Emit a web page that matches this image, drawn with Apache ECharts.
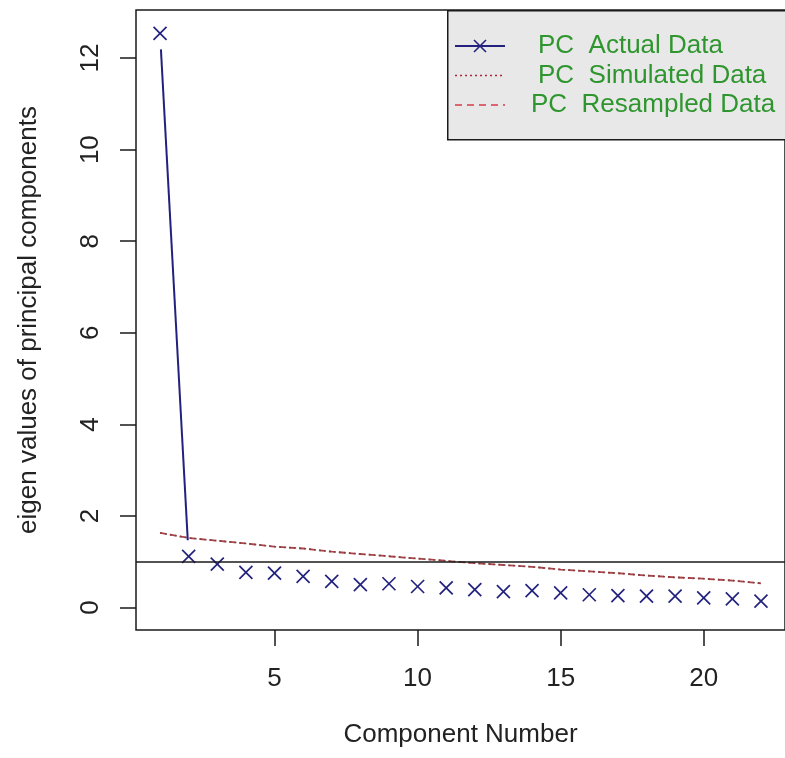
<!DOCTYPE html>
<html>
<head>
<meta charset="utf-8">
<script src="https://cdn.jsdelivr.net/npm/echarts@6/dist/echarts.min.js"></script>
<style>
html,body{margin:0;padding:0;background:#fff;}
#chart{width:785px;height:758px;}
</style>
</head>
<body>
<div id="chart"></div>
<script>
// ---- data ----
var components = [1,2,3,4,5,6,7,8,9,10,11,12,13,14,15,16,17,18,19,20,21,22];
var actualData = [12.54,1.12,0.95,0.77,0.75,0.68,0.57,0.50,0.52,0.46,0.43,0.39,0.35,0.37,0.32,0.28,0.26,0.25,0.25,0.21,0.19,0.14];
var simulatedData = [1.63,1.52,1.46,1.40,1.33,1.29,1.22,1.17,1.12,1.07,1.02,0.97,0.93,0.89,0.83,0.79,0.75,0.70,0.66,0.63,0.59,0.53];
var resampledData = [1.63,1.52,1.46,1.40,1.33,1.29,1.22,1.17,1.12,1.07,1.02,0.97,0.93,0.89,0.83,0.79,0.75,0.70,0.66,0.63,0.59,0.53];
var xTicks = [5,10,15,20];
var yTicks = [0,2,4,6,8,10,12];
var referenceLine = 1;
var legendNames = ['PC  Actual Data','PC  Simulated Data','PC  Resampled Data'];

var FONT = "'Liberation Sans', Arial, Helvetica, sans-serif";
var BLUE = '#22227e';
var RED_DOT = '#a82a3a';
var RED_DASH = '#d83a4a';
var PLOT_RED_DOT = '#8e3a3e';
var PLOT_RED_DASH = '#a8484c';
var GREEN = '#2f962f';

function pairs(vals){ return vals.map(function(v,i){ return [components[i], v]; }); }

var chart = echarts.init(document.getElementById('chart'), null, {renderer:'canvas'});

var option = {
  backgroundColor: '#ffffff',
  animation: false,
  grid: {
    left: 136, top: 10, right: -11, bottom: 128,
    show: true, borderColor: '#1a1a1a', borderWidth: 1.5, backgroundColor: 'transparent'
  },
  xAxis: {
    type: 'value', min: 0.16, max: 22.84,
    name: 'Component Number', nameLocation: 'middle', nameGap: 92,
    nameTextStyle: {fontFamily: FONT, fontSize: 26, color: '#222'},
    axisLine: {show: false, onZero: false},
    axisTick: {show: true, inside: false, customValues: xTicks, length: 16, lineStyle: {color: '#1a1a1a', width: 1.5}},
    axisLabel: {customValues: xTicks, margin: 36, fontFamily: FONT, fontSize: 26, color: '#222'},
    splitLine: {show: false}
  },
  yAxis: {
    type: 'value', min: -0.49, max: 13.05,
    name: 'eigen values of principal components', nameLocation: 'middle', nameGap: 94,
    nameTextStyle: {fontFamily: FONT, fontSize: 26, color: '#222'},
    axisLine: {show: false, onZero: false},
    axisTick: {show: true, inside: false, customValues: yTicks, length: 16, lineStyle: {color: '#1a1a1a', width: 1.5}},
    axisLabel: {customValues: yTicks, rotate: 90, margin: 32, fontFamily: FONT, fontSize: 26, color: '#222'},
    splitLine: {show: false}
  },
  series: [
    {
      name: legendNames[2], type: 'line', data: pairs(resampledData), symbol: 'none',
      lineStyle: {color: PLOT_RED_DASH, width: 1.8, type: [6,4]}, z: 2
    },
    {
      name: legendNames[1], type: 'line', data: pairs(simulatedData), symbol: 'none',
      lineStyle: {color: PLOT_RED_DOT, width: 1.6, type: [2,3]}, z: 3,
      markLine: {
        silent: true, symbol: 'none', label: {show: false},
        lineStyle: {color: '#1a1a1a', width: 1.5, type: 'solid'},
        data: [{yAxis: referenceLine}]
      }
    },
    {
      name: legendNames[0], type: 'custom', z: 4,
      data: pairs(actualData),
      encode: {x: 0, y: 1},
      renderItem: function(params, api){
        var i = params.dataIndex;
        var p = api.coord([api.value(0), api.value(1)]);
        var s = 6.5;
        var children = [
          {type:'line', shape:{x1:p[0]-s,y1:p[1]-s,x2:p[0]+s,y2:p[1]+s}, style:{stroke:BLUE,lineWidth:1.7}},
          {type:'line', shape:{x1:p[0]-s,y1:p[1]+s,x2:p[0]+s,y2:p[1]-s}, style:{stroke:BLUE,lineWidth:1.7}}
        ];
        if (i < actualData.length - 1) {
          var q = api.coord([components[i+1], actualData[i+1]]);
          var dx = q[0]-p[0], dy = q[1]-p[1];
          var len = Math.sqrt(dx*dx+dy*dy);
          var gap = 16;
          if (len > 2*gap) {
            var ux = dx/len, uy = dy/len;
            children.push({type:'line', shape:{x1:p[0]+ux*gap,y1:p[1]+uy*gap,x2:q[0]-ux*gap,y2:q[1]-uy*gap}, style:{stroke:BLUE,lineWidth:2}});
          }
        }
        return {type:'group', children: children};
      }
    }
  ],
  graphic: [
    {type:'rect', left: 447, top: 10, z: 100, shape:{x:0,y:0,width:400,height:129},
     style:{fill:'#e8e8e8', stroke:'#1a1a1a', lineWidth:1.5}},
    {type:'line', z: 101, shape:{x1:455,y1:46,x2:505,y2:46}, style:{stroke:BLUE, lineWidth:2}},
    {type:'line', z: 101, shape:{x1:474,y1:40,x2:486,y2:52}, style:{stroke:BLUE, lineWidth:1.6}},
    {type:'line', z: 101, shape:{x1:474,y1:52,x2:486,y2:40}, style:{stroke:BLUE, lineWidth:1.6}},
    {type:'line', z: 101, shape:{x1:455,y1:75.5,x2:505,y2:75.5}, style:{stroke:RED_DOT, lineWidth:1.6, lineDash:[2,3]}},
    {type:'line', z: 101, shape:{x1:455,y1:105,x2:505,y2:105}, style:{stroke:RED_DASH, lineWidth:1.6, lineDash:[7,5]}},
    {type:'text', z: 101, x: 538, y: 46, style:{text: legendNames[0], fill: GREEN, font: '26px ' + FONT, verticalAlign:'middle'}},
    {type:'text', z: 101, x: 538, y: 75.5, style:{text: legendNames[1], fill: GREEN, font: '26px ' + FONT, verticalAlign:'middle'}},
    {type:'text', z: 101, x: 531, y: 105, style:{text: legendNames[2], fill: GREEN, font: '26px ' + FONT, verticalAlign:'middle'}}
  ]
};
chart.setOption(option);
</script>
</body>
</html>
